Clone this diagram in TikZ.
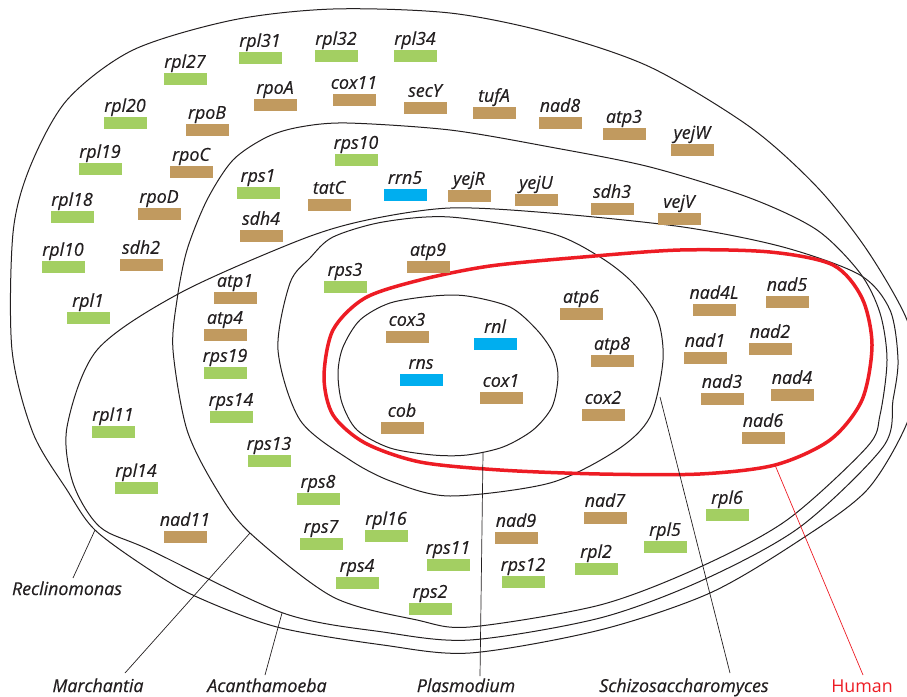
\documentclass[tikz,border=0pt]{standalone}
\usepackage{fontspec}
\setmainfont{Open Sans}[ItalicFeatures={FakeBold=0.4}]
\definecolor{ink}{HTML}{231F20}
\definecolor{gn}{HTML}{A3CF62}
\definecolor{bn}{HTML}{C19A5F}
\definecolor{bl}{HTML}{00AEEF}
\definecolor{hred}{HTML}{ED1C24}
% bar with its gene name above it
\newcommand{\gene}[3]{\node[bar=#3] (#1) at (#2) {}; \node[lab] (#1-t) at ([yshift=5pt]#1.north) {#1};}
\begin{document}
\begin{tikzpicture}[x=1pt,y=-1pt,
  bar/.style={rectangle,fill=#1,minimum width=43pt,minimum height=12pt,inner sep=0pt},
  lab/.style={font=\fontsize{17.8}{20}\selectfont\itshape,text=ink,anchor=base,inner sep=0pt},
  rim/.style={draw=ink,line width=1pt},
  tick/.style={draw=ink,line width=0.7pt}]
\useasboundingbox (0,0) rectangle (907,696);
% Reclinomonas
\draw[rim] plot[smooth cycle] coordinates {(133,50) (233,20) (333,9) (450,13) (550,33)
  (650,67) (750,127) (817,187) (867,250) (907,320) (915,372) (907,423) (867,490)
  (800,540) (710,593) (600,630) (470,653) (383,645) (277,627) (197,597) (150,570)
  (95,530) (67,490) (33,433) (12,350) (13,233) (30,167) (67,100)};
% Marchantia
\draw[rim] plot[smooth cycle] coordinates {(173,350) (177,300) (187,250) (207,200) (233,160)
  (267,137) (300,127) (347,123) (450,130) (550,147) (650,167) (750,198) (817,230)
  (860,273) (880,313) (887,360) (880,415) (867,447) (787,520) (700,567) (600,605)
  (470,627) (417,620) (333,597) (250,533) (217,490) (187,430)};
% Acanthamoeba
\draw[rim] plot[smooth cycle] coordinates {(450,208) (550,213) (683,227) (783,247) (860,275)
  (890,310) (898,360) (893,400) (883,447) (800,527) (703,580) (600,618) (470,640)
  (383,632) (283,613) (150,550) (100,527) (73,483) (67,427) (97,350) (180,293)
  (300,240) (367,220)};
% Schizosaccharomyces
\draw[rim] plot[smooth cycle] coordinates {(450,217) (550,233) (600,257) (633,283) (657,317)
  (663,360) (650,417) (617,450) (550,483) (450,496) (393,482) (350,460) (300,420)
  (278,350) (290,283) (310,258) (333,237) (383,222)};
% Plasmodium
\draw[rim] plot[smooth cycle] coordinates {(338,373) (343,347) (360,320) (390,303) (433,296)
  (467,296) (510,307) (537,330) (553,353) (558,377) (552,407) (533,430) (503,447)
  (467,455) (433,455) (390,448) (357,430) (342,403)};
% Human
\draw[hred,line width=3.5pt] plot[smooth cycle] coordinates {(324,377) (333,330) (365,298)
  (420,280) (490,266) (583,257) (680,250) (770,252) (833,265) (862,298) (872,345)
  (862,400) (830,440) (775,465) (700,474) (600,474) (500,470) (420,462) (365,443)
  (333,415)};

% Reclinomonas only
\gene{rpl31}{260,58}{gn}
\gene{rpl32}{336,56}{gn}
\gene{rpl34}{415,56}{gn}
\gene{rpl27}{185,79}{gn}
\gene{rpl20}{125,123}{gn}
\gene{rpl19}{100,169}{gn}
\gene{rpl18}{72,217}{gn}
\gene{rpl10}{63,267}{gn}
\gene{rpl1}{88,318}{gn}
\gene{rpoA}{275,105}{bn}
\gene{cox11}{354,100}{bn}
\gene{secY}{425,108}{bn}
\gene{tufA}{494,113}{bn}
\gene{nad8}{560,123}{bn}
\gene{atp3}{624,134}{bn}
\gene{yejW}{692,150}{bn}
\gene{rpoB}{207,130}{bn}
\gene{rpoC}{191,172}{bn}
\gene{rpoD}{159,214}{bn}
\gene{sdh2}{141,265}{bn}
% Marchantia
\gene{rps10}{356,160}{gn}
\gene{rps1}{258,193}{gn}
\gene{tatC}{329,205}{bn}
\gene{rrn5}{405,195}{bl}
\gene{yejR}{469,196}{bn}
\gene{yejU}{536,200}{bn}
\gene{sdh3}{612,209}{bn}
\gene{vejV}{679,219}{bn}
\gene{sdh4}{261,236}{bn}
% Acanthamoeba
\gene{rpl11}{113,432}{gn}
\gene{rpl14}{136,488}{gn}
\gene{nad11}{185,537}{bn}
\gene{atp1}{235,298}{bn}
\gene{atp4}{225,335}{bn}
\gene{rps19}{225,373}{gn}
\gene{rps14}{231,417}{gn}
\gene{rps13}{269,461}{gn}
\gene{rps8}{318,499}{gn}
\gene{rps7}{321,544}{gn}
\gene{rpl16}{386,536}{gn}
\gene{rps4}{357,583}{gn}
\gene{rps2}{430,609}{gn}
\gene{rps11}{448,565}{gn}
\gene{rps12}{523,582}{gn}
\gene{nad9}{516,538}{bn}
\gene{nad7}{605,518}{bn}
\gene{rpl2}{596,569}{gn}
\gene{rpl5}{665,547}{gn}
\gene{rpl6}{727,515}{gn}
% Schizosaccharomyces
\gene{rps3}{345,287}{gn}
\gene{atp9}{428,267}{bn}
\gene{atp6}{581,314}{bn}
\gene{atp8}{612,361}{bn}
\gene{cox2}{603,415}{bn}
% Plasmodium
\gene{cox3}{407,337}{bn}
\gene{rnl}{495,344}{bl}
\gene{rns}{421,380}{bl}
\gene{cox1}{501,398}{bn}
\gene{cob}{402,428}{bn}
% Human
\gene{nad4L}{714,310}{bn}
\gene{nad5}{787,302}{bn}
\gene{nad1}{705,358}{bn}
\gene{nad2}{770,349}{bn}
\gene{nad3}{722,399}{bn}
\gene{nad4}{792,395}{bn}
\gene{nad6}{763,438}{bn}

% organism names
\node[lab] (recl) at (67,595) {Reclinomonas};
\node[lab] (march) at (98,692) {Marchantia};
\node[lab] (acan) at (267,692) {Acanthamoeba};
\node[lab] (plas) at (466,692) {Plasmodium};
\node[lab] (schi) at (684,692) {Schizosaccharomyces};
\node[lab,font=\fontsize{17.8}{20}\selectfont,text=hred] (hum) at (862,692) {Human};
% pointer ends on the curves
\coordinate (recl-p) at (95,530);
\coordinate (march-p) at (250,533);
\coordinate (acan-p) at (282,613);
\coordinate (plas-p) at (483,453);
\coordinate (schi-p) at (660,397);
\coordinate (hum-p) at (775,465);
\coordinate (recl-e) at (73,578);
\coordinate (march-e) at (125,673);
\coordinate (acan-e) at (265,675);
\coordinate (plas-e) at (480,676);
\coordinate (schi-e) at (730,673);
\coordinate (hum-e) at (863,675);
\draw[tick] (recl-p) -- (recl-e);
\draw[tick] (march-p) -- (march-e);
\draw[tick] (acan-p) -- (acan-e);
\draw[tick] (plas-p) -- (plas-e);
\draw[tick] (schi-p) -- (schi-e);
\draw[hred,line width=0.7pt] (hum-p) -- (hum-e);
\end{tikzpicture}
\end{document}
